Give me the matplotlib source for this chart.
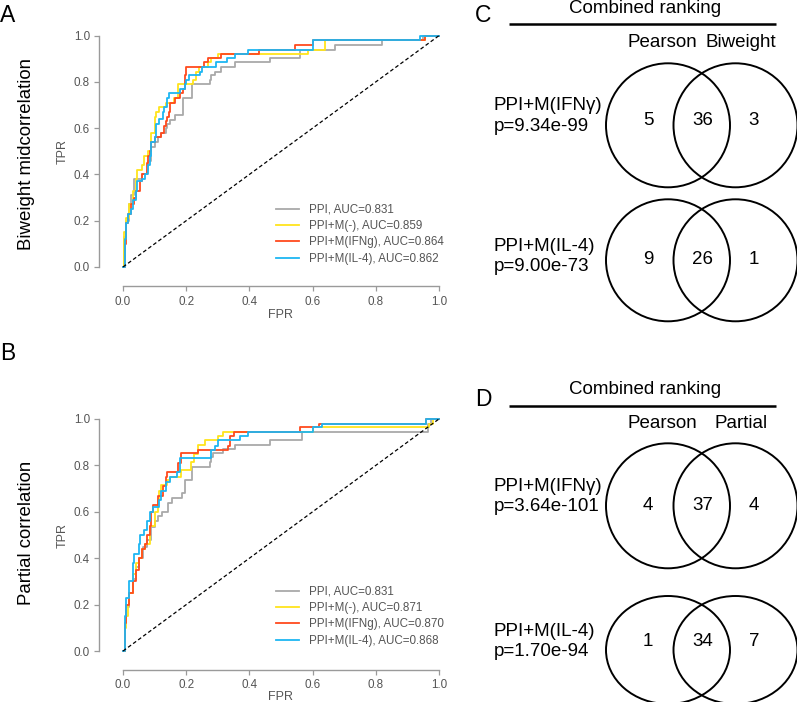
import numpy as np
import matplotlib.pyplot as plt
from matplotlib.patches import Ellipse

plt.rcParams['font.family'] = ['Liberation Sans', 'DejaVu Sans']

# ---- ROC data (step vertices) ----
ticks = [0.0, 0.2, 0.4, 0.6, 0.8, 1.0]
tick_labels = ['0.0', '0.2', '0.4', '0.6', '0.8', '1.0']

# panel A: biweight midcorrelation
a_ppi_fpr = [0, 0.004, 0.01, 0.02, 0.025, 0.035, 0.06, 0.075, 0.08, 0.09, 0.1, 0.11, 0.12, 0.135, 0.14, 0.15,
             0.165, 0.19, 0.217, 0.275, 0.28, 0.29, 0.31, 0.354, 0.465, 0.56, 0.67, 0.82, 0.95, 1.0]
a_ppi_tpr = [0, 0.13, 0.2, 0.27, 0.31, 0.38, 0.4, 0.42, 0.46, 0.52, 0.54, 0.56, 0.58, 0.6, 0.62, 0.635,
             0.655, 0.73, 0.79, 0.81, 0.83, 0.845, 0.865, 0.885, 0.905, 0.94, 0.96, 0.98, 1.0, 1.0]
a_m_fpr = [0, 0.004, 0.01, 0.02, 0.03, 0.04, 0.045, 0.06, 0.065, 0.08, 0.09, 0.1, 0.105, 0.115, 0.135, 0.16,
           0.175, 0.22, 0.23, 0.24, 0.27, 0.28, 0.3, 0.585, 0.64, 0.955, 1.0]
a_m_tpr = [0, 0.15, 0.21, 0.27, 0.33, 0.38, 0.42, 0.44, 0.48, 0.5, 0.58, 0.65, 0.67, 0.69, 0.71, 0.73,
           0.79, 0.81, 0.845, 0.865, 0.885, 0.905, 0.92, 0.94, 0.98, 1.0, 1.0]
a_ifng_fpr = [0, 0.005, 0.01, 0.015, 0.025, 0.035, 0.04, 0.055, 0.06, 0.075, 0.08, 0.085, 0.09, 0.1, 0.12,
              0.13, 0.135, 0.14, 0.145, 0.15, 0.165, 0.18, 0.19, 0.195, 0.2, 0.255, 0.27, 0.31, 0.43, 0.545,
              0.6, 0.955, 1.0]
a_ifng_tpr = [0, 0.1, 0.19, 0.23, 0.27, 0.3, 0.33, 0.37, 0.4, 0.45, 0.48, 0.5, 0.54, 0.56, 0.58,
              0.61, 0.63, 0.65, 0.67, 0.71, 0.73, 0.75, 0.77, 0.83, 0.865, 0.885, 0.905, 0.92, 0.94, 0.96,
              0.98, 1.0, 1.0]
a_il4_fpr = [0, 0.005, 0.01, 0.015, 0.025, 0.03, 0.04, 0.045, 0.06, 0.07, 0.08, 0.085, 0.09, 0.1, 0.105,
             0.115, 0.125, 0.13, 0.14, 0.145, 0.18, 0.195, 0.2, 0.21, 0.245, 0.25, 0.295, 0.33, 0.355, 0.396,
             0.6, 0.94, 1.0]
a_il4_tpr = [0, 0.12, 0.19, 0.23, 0.25, 0.29, 0.33, 0.37, 0.38, 0.4, 0.44, 0.48, 0.54, 0.56, 0.62,
             0.64, 0.67, 0.69, 0.73, 0.75, 0.77, 0.79, 0.81, 0.83, 0.845, 0.865, 0.885, 0.905, 0.92, 0.94,
             0.98, 1.0, 1.0]

# panel B: partial correlation
b_ppi_fpr = [0, 0.005, 0.01, 0.02, 0.03, 0.04, 0.05, 0.064, 0.075, 0.09, 0.101, 0.11, 0.122, 0.143, 0.154,
             0.186, 0.196, 0.217, 0.275, 0.28, 0.286, 0.317, 0.354, 0.465, 0.566, 0.965, 0.975, 1.0]
b_ppi_tpr = [0, 0.12, 0.19, 0.25, 0.31, 0.36, 0.4, 0.45, 0.48, 0.536, 0.56, 0.58, 0.6, 0.637, 0.66,
             0.68, 0.737, 0.794, 0.816, 0.835, 0.852, 0.87, 0.888, 0.909, 0.945, 0.98, 1.0, 1.0]
b_m_fpr = [0, 0.005, 0.01, 0.015, 0.02, 0.03, 0.04, 0.05, 0.06, 0.07, 0.085, 0.1, 0.11, 0.115, 0.12, 0.14,
           0.15, 0.185, 0.215, 0.225, 0.237, 0.259, 0.3, 0.315, 0.6, 0.97, 0.98, 1.0]
b_m_tpr = [0, 0.1, 0.15, 0.2, 0.25, 0.33, 0.38, 0.4, 0.44, 0.46, 0.54, 0.6, 0.65, 0.69, 0.716, 0.735,
           0.75, 0.78, 0.816, 0.85, 0.888, 0.909, 0.925, 0.945, 0.965, 0.98, 1.0, 1.0]
b_ifng_fpr = [0, 0.005, 0.01, 0.02, 0.03, 0.04, 0.05, 0.06, 0.07, 0.075, 0.085, 0.09, 0.095, 0.11, 0.125,
              0.135, 0.14, 0.175, 0.185, 0.238, 0.333, 0.338, 0.35, 0.56, 0.62, 0.96, 1.0]
b_ifng_tpr = [0, 0.12, 0.2, 0.25, 0.3, 0.35, 0.4, 0.44, 0.46, 0.5, 0.54, 0.6, 0.63, 0.67, 0.71,
              0.75, 0.77, 0.81, 0.852, 0.865, 0.885, 0.925, 0.945, 0.965, 0.98, 1.0, 1.0]
b_il4_fpr = [0, 0.005, 0.01, 0.02, 0.03, 0.035, 0.05, 0.055, 0.065, 0.075, 0.085, 0.095, 0.115, 0.12, 0.135,
             0.15, 0.17, 0.18, 0.28, 0.29, 0.3, 0.37, 0.396, 0.6, 0.63, 0.96, 1.0]
b_il4_tpr = [0, 0.15, 0.23, 0.3, 0.38, 0.42, 0.46, 0.5, 0.52, 0.56, 0.6, 0.62, 0.65, 0.69, 0.73,
             0.75, 0.77, 0.83, 0.865, 0.885, 0.909, 0.925, 0.945, 0.965, 0.98, 1.0, 1.0]

a_labels = ['PPI, AUC=0.831', 'PPI+M(-), AUC=0.859', 'PPI+M(IFNg), AUC=0.864', 'PPI+M(IL-4), AUC=0.862']
b_labels = ['PPI, AUC=0.831', 'PPI+M(-), AUC=0.871', 'PPI+M(IFNg), AUC=0.870', 'PPI+M(IL-4), AUC=0.868']
colors = ['#A9A9A9', '#FFE41C', '#FF4A1E', '#1EB6F2']

# ---- Venn data ----
venn_titles = ['Pearson', 'Biweight', 'Partial']
venn_rows = ['PPI+M(IFN\u03b3)', 'PPI+M(IL-4)']
c_pvals = ['p=9.34e-99', 'p=9.00e-73']
c_counts = [(5, 36, 3), (9, 26, 1)]
d_pvals = ['p=3.64e-101', 'p=1.70e-94']
d_counts = [(4, 37, 4), (1, 34, 7)]

W, H = 797, 702
fig = plt.figure(figsize=(W / 100, H / 100), dpi=100)


def px_rect(l, t, r, b):
    return [l / W, 1 - b / H, (r - l) / W, (b - t) / H]


grey_txt = '#555555'
grey_ax = '#9A9A9A'


def roc_panel(rect, curves, labels, xaxis_off, leg_top):
    ax = fig.add_axes(px_rect(*rect))
    for (f, t), c, lab in zip(curves, colors, labels):
        ax.plot(f, t, drawstyle='steps-post', color=c, lw=1.3, label=lab)
    ax.plot([0, 1], [0, 1], color='black', lw=0.9, ls=(0, (3, 2)))
    ax.set_xlim(-0.04, 1.04)
    ax.set_ylim(-0.04, 1.04)
    for s in ['top', 'right']:
        ax.spines[s].set_visible(False)
    ax.spines['left'].set_position(('outward', 8))
    ax.spines['bottom'].set_position(('outward', xaxis_off))
    ax.spines['left'].set_bounds(0, 1)
    ax.spines['bottom'].set_bounds(0, 1)
    for s in ['left', 'bottom']:
        ax.spines[s].set_color(grey_ax)
        ax.spines[s].set_linewidth(1.0)
    ax.set_xticks(ticks, tick_labels)
    ax.set_yticks(ticks, tick_labels)
    ax.tick_params(length=3.6, width=0.9, color=grey_ax, labelcolor=grey_txt, labelsize=8.4, pad=3.2)
    ax.patch.set_visible(False)
    leg = ax.legend(loc='upper left', bbox_to_anchor=(276 / W, 1 - leg_top / H),
                    bbox_transform=fig.transFigure, frameon=False, fontsize=8.4,
                    handlelength=2.0, handletextpad=0.85, labelspacing=0.36,
                    borderpad=0, borderaxespad=0)
    for txt in leg.get_texts():
        txt.set_color(grey_txt)
    return ax


roc_panel((110.4, 26.4, 451.6, 276.2),
          [(a_ppi_fpr, a_ppi_tpr), (a_m_fpr, a_m_tpr), (a_ifng_fpr, a_ifng_tpr), (a_il4_fpr, a_il4_tpr)],
          a_labels, 7.2, 204)
roc_panel((110.4, 409.7, 451.6, 660.3),
          [(b_ppi_fpr, b_ppi_tpr), (b_m_fpr, b_m_tpr), (b_ifng_fpr, b_ifng_tpr), (b_il4_fpr, b_il4_tpr)],
          b_labels, 6.9, 586)

# overlay in pixel coordinates for venn diagrams and free text
ov = fig.add_axes([0, 0, 1, 1])
ov.set_xlim(0, W)
ov.set_ylim(H, 0)
ov.axis('off')
ov.patch.set_visible(False)

# ROC axis titles and panel labels
for y_tpr, y_fpr, name, yc in [(151, 315, 'Biweight midcorrelation', 154),
                                (535, 697, 'Partial correlation', 533)]:
    ov.text(63, y_tpr, 'TPR', rotation=90, ha='center', va='center', fontsize=9, color=grey_txt)
    ov.text(281, y_fpr, 'FPR', ha='center', va='center', fontsize=9, color=grey_txt)
    ov.text(27, yc, name, rotation=90, ha='center', va='center', fontsize=13.4)

for lab, x, y in [('A', 0, 16), ('B', 0, 353), ('C', 475, 16), ('D', 475, 400)]:
    ov.text(x, y, lab, ha='left', va='center', fontsize=16.5)

fs = 13.5


def venn_block(title_y, line_y, sub_y, second, rows, pvals, counts):
    ov.text(645, title_y, 'Combined ranking', ha='center', va='center', fontsize=fs)
    ov.plot([509, 776], [line_y, line_y], color='black', lw=1.8, solid_capstyle='butt')
    ov.text(662, sub_y, venn_titles[0], ha='center', va='center', fontsize=fs)
    ov.text(741, sub_y, second, ha='center', va='center', fontsize=fs)
    for (cy, ry, ly1, ly2, ny), name, p, cnt in zip(rows, venn_rows, pvals, counts):
        for cx in (668, 735.5):
            ov.add_patch(Ellipse((cx, cy), 124, 2 * ry, fill=False, ec='black', lw=1.4))
        ov.text(494, ly1, name, ha='left', va='center', fontsize=fs)
        ov.text(494, ly2, p, ha='left', va='center', fontsize=fs)
        for x, n in zip((648.3, 702.7, 754), cnt):
            ov.text(x, ny, str(n), ha='center', va='center', fontsize=fs)


venn_block(8.5, 24, 42.7, venn_titles[1],
           [(125.3, 62, 106, 126.7, 120.7), (260.3, 61, 246.7, 266.7, 260)],
           c_pvals, c_counts)
venn_block(390, 405.7, 424, venn_titles[2],
           [(505.8, 62.5, 486.7, 506.7, 505.7), (650, 54, 631, 651.7, 641.7)],
           d_pvals, d_counts)

fig.savefig('out.png', dpi=100)
